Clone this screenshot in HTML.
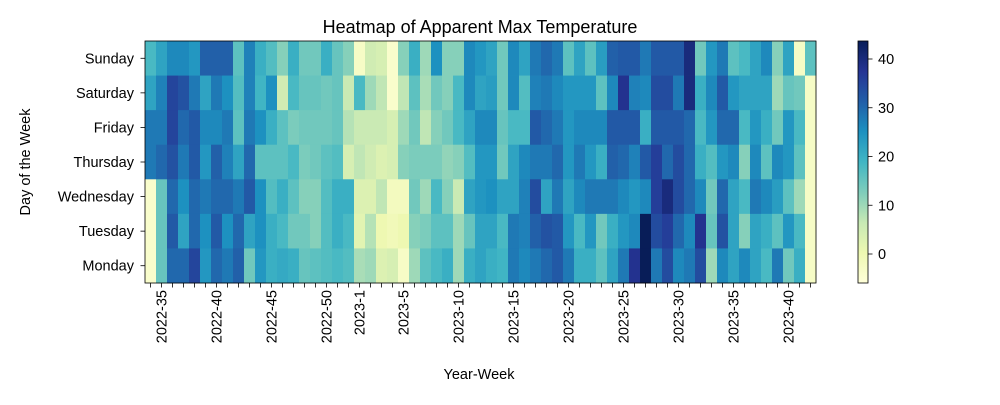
<!DOCTYPE html>
<html><head><meta charset="utf-8"><style>
body{margin:0;background:#fff}
svg text{font-family:"Liberation Sans","DejaVu Sans",sans-serif;fill:#000}
</style></head><body>
<svg id="s" width="1000" height="400" xmlns="http://www.w3.org/2000/svg">
<defs><linearGradient id="g" x1="0" y1="1" x2="0" y2="0">
<stop offset="0" stop-color="#ffffd9"/><stop offset="0.125" stop-color="#edf8b1"/><stop offset="0.25" stop-color="#c7e9b4"/><stop offset="0.375" stop-color="#7fcdbb"/><stop offset="0.5" stop-color="#41b6c4"/><stop offset="0.625" stop-color="#1d91c0"/><stop offset="0.75" stop-color="#225ea8"/><stop offset="0.875" stop-color="#253494"/><stop offset="1" stop-color="#081d58"/>
</linearGradient></defs>
<g id="hm"></g>
<text x="480" y="33" font-size="18" text-anchor="middle">Heatmap of Apparent Max Temperature</text>
<text x="479" y="379" font-size="14.5" text-anchor="middle">Year-Week</text>
<text transform="translate(30,162) rotate(-90)" font-size="14.5" text-anchor="middle">Day of the Week</text>
<rect x="858" y="41" width="10" height="242" fill="url(#g)"/>
<rect x="858" y="41" width="10" height="242" fill="none" stroke="#000" stroke-width="0.8"/>
</svg>
<script>
var D=[[18,22,28,28,-4,-4,-4],[22,27,28,30,15,15,15],[26,35,35,33,30,32,30],[26,33,30,28,25,22,30],[24,28,32,32,30,30,35],[31,22,26,24,28,25,24],[31,28,26,31,30,32,30],[31,25,28,27,30,25,28],[16,17,16,22,28,30,31],[27,27,28,30,32,22,14],[20,19,25,16,25,25,24],[17,25,20,16,17,20,20],[12,5,16,16,20,18,21],[20,18,13,18,16,14,20],[14,15,14,13,12,14,15],[14,15,14,14,12,12,16],[20,14,14,16,17,17,17],[15,15,15,17,20,20,18],[12,6,8,4,20,18,17],[-3,18,6,7,3,2,9],[5,10,6,5,3,8,10],[4,7,6,3,7,0,3],[-4,-4,4,4,-2,-1,4],[12,7,10,12,-2,0,-3],[20,16,14,13,14,12,10],[10,9,7,13,10,13,16],[25,14,12,13,18,16,18],[12,12,14,11,12,16,20],[12,18,18,12,6,10,10],[26,26,22,17,22,15,20],
[24,22,26,24,24,22,22],[22,23,26,24,25,22,20],[14,14,15,14,22,18,19],[26,26,18,22,22,28,28],[22,17,18,26,27,27,26],[28,27,32,28,34,31,28],[30,28,30,28,22,33,30],[28,26,28,30,28,32,32],[16,24,24,24,22,24,28],[22,24,26,28,26,18,20],[16,24,26,24,28,24,20],[23,16,26,20,28,14,16],[31,26,32,31,28,20,22],[32,38,32,30,26,24,28],[32,27,32,27,24,26,38],[28,26,20,32,26,44,44],[32,34,32,36,36,34,28],[32,34,32,30,40,36,34],[32,28,32,34,34,30,26],[40,40,30,30,30,26,28],[14,20,18,20,26,38,34],[24,26,24,17,14,15,10],[28,32,30,24,30,33,26],[16,24,30,26,22,22,22],[18,22,18,12,18,12,26],[22,22,24,26,28,22,22],[26,22,20,16,26,20,18],[12,10,14,26,23,16,28],[22,15,24,24,16,24,14],[-3,14,18,16,10,18,20],[16,-3,-3,-3,-3,-3,-3]];
var C=[[255,255,217],[237,248,177],[199,233,180],[127,205,187],[65,182,196],[29,145,192],[34,94,168],[37,52,148],[8,29,88]];
function col(v){var t=(v+6)/49.7;t=Math.max(0,Math.min(1,t))*8;var i=Math.min(7,Math.floor(t)),f=t-i;var a=C[i],b=C[i+1];return'rgb('+[0,1,2].map(function(k){return Math.round(a[k]+(b[k]-a[k])*f)}).join(',')+')';}
var s='',x0=145,cw=11,y0=41,rh=242/7;
for(var c=0;c<61;c++)for(var r=0;r<7;r++)s+='<rect x="'+(x0+c*cw)+'" y="'+(y0+r*rh).toFixed(2)+'" width="11.4" height="'+(rh+0.4).toFixed(2)+'" fill="'+col(D[c][r])+'"/>';
s+='<rect x="145" y="41" width="671" height="242" fill="none" stroke="#000" stroke-width="0.8"/>';
var days=['Sunday','Saturday','Friday','Thursday','Wednesday','Tuesday','Monday'];
for(var r=0;r<7;r++){var y=y0+(r+0.5)*rh;s+='<line x1="140.5" x2="145" y1="'+y+'" y2="'+y+'" stroke="#000" stroke-width="0.8"/><text x="134" y="'+(y+5)+'" font-size="14.5" text-anchor="end">'+days[r]+'</text>';}
var labs={1:'2022-35',6:'2022-40',11:'2022-45',16:'2022-50',19:'2023-1',23:'2023-5',28:'2023-10',33:'2023-15',38:'2023-20',43:'2023-25',48:'2023-30',53:'2023-35',58:'2023-40'};
for(var c=0;c<61;c++){var x=x0+(c+0.5)*cw;s+='<line x1="'+x+'" x2="'+x+'" y1="283" y2="287.5" stroke="#000" stroke-width="0.8"/>';if(labs[c])s+='<text transform="translate('+(x+5)+',290) rotate(-90)" font-size="14.5" text-anchor="end">'+labs[c]+'</text>';}
[0,10,20,30,40].forEach(function(v){var y=254-v*4.875;s+='<line x1="868" x2="872.5" y1="'+y+'" y2="'+y+'" stroke="#000" stroke-width="0.8"/><text x="878" y="'+(y+5)+'" font-size="14.5">'+v+'</text>';});
document.getElementById('hm').innerHTML=s;
</script>
</body></html>
